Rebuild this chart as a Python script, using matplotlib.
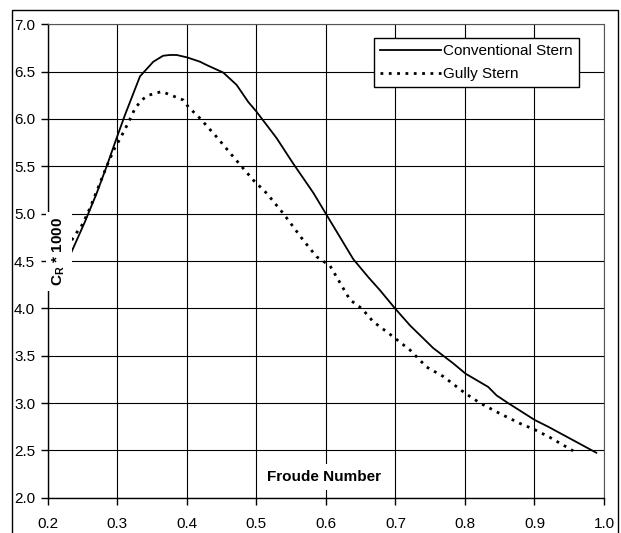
import matplotlib
matplotlib.use('Agg')
import matplotlib.pyplot as plt
from matplotlib.patches import Rectangle

# ---------------------------------------------------------#
# Data                                  #
# ---------------------------------------------------------#
fn_conv = [0.2345, 0.2536, 0.2704, 0.2848, 0.2992, 0.311, 0.3327, 0.3519,
           0.366, 0.3759, 0.3855, 0.4007, 0.419, 0.4286, 0.4525, 0.4717,
           0.4884, 0.5, 0.529, 0.553, 0.582, 0.6, 0.6156, 0.6394,
           0.661, 0.678, 0.6994, 0.721, 0.7545, 0.783, 0.801, 0.8335,
           0.8456, 0.862, 0.9006, 0.9197, 0.989]
cr_conv = [4.60, 4.915, 5.215, 5.50, 5.80, 6.04, 6.45, 6.605,
           6.668, 6.676, 6.676, 6.65, 6.605, 6.57, 6.49, 6.36,
           6.18, 6.08, 5.80, 5.53, 5.22, 5.00, 4.81, 4.52,
           4.33, 4.19, 4.00, 3.82, 3.58, 3.42, 3.31, 3.17,
           3.08, 3.00, 2.82, 2.75, 2.475]

fn_gully = [0.2345, 0.2407, 0.2503, 0.2608, 0.275, 0.2848, 0.2968, 0.304,
            0.3145, 0.3255, 0.335, 0.3447, 0.364, 0.383, 0.395, 0.402,
            0.419, 0.443, 0.467, 0.4956, 0.515, 0.539, 0.5675, 0.5868,
            0.606, 0.6347, 0.6515, 0.668, 0.6898, 0.721, 0.745, 0.769,
            0.801, 0.8217, 0.850, 0.879, 0.9, 0.9216, 0.9556]
cr_gully = [4.72, 4.79, 4.89, 5.06, 5.32, 5.50, 5.70, 5.79,
            5.94, 6.11, 6.20, 6.25, 6.29, 6.235, 6.20, 6.13,
            6.007, 5.81, 5.60, 5.355, 5.215, 5.00, 4.72, 4.545,
            4.45, 4.09, 4.00, 3.86, 3.74, 3.56, 3.38, 3.28,
            3.10, 3.00, 2.89, 2.785, 2.72, 2.64, 2.495]

x_ticks = [0.2, 0.3, 0.4, 0.5, 0.6, 0.7, 0.8, 0.9, 1.0]
y_ticks = [2.0, 2.5, 3.0, 3.5, 4.0, 4.5, 5.0, 5.5, 6.0, 6.5, 7.0]

label_conv  = 'Conventional Stern'
label_gully = 'Gully Stern'
label_x     = 'Froude Number'
label_y     = r'$\mathbf{C_R}$ * 1000'

# ---------------------------------------------------------#
# Plot                                                     #
# ---------------------------------------------------------#
plt.rcParams['font.family'] = ['Liberation Sans', 'DejaVu Sans']
plt.rcParams['mathtext.fontset'] = 'custom'
plt.rcParams['mathtext.rm'] = 'Liberation Sans'
plt.rcParams['mathtext.bf'] = 'Liberation Sans:bold'

fig = plt.figure(figsize=(6.21, 5.33), dpi=100)
ax = fig.add_axes([0.0768, 0.0662, 0.8958, 0.8882])

ax.plot(fn_conv, cr_conv, color='black', lw=1.3, label=label_conv, zorder=4)
ax.plot(fn_gully, cr_gully, color='black', lw=2.0, linestyle=(0, (1, 2)),
        label=label_gully, zorder=4)

ax.set_xlim(0.2, 1.0)
ax.set_ylim(2.0, 7.0)
ax.set_xticks(x_ticks)
ax.set_yticks(y_ticks)
ax.set_xticklabels(['%.1f' % v for v in x_ticks])
ax.set_yticklabels(['%.1f' % v for v in y_ticks])
ax.tick_params(axis='both', direction='out', length=5, width=1,
               labelsize=11, colors='black')
ax.tick_params(axis='x', pad=9)
ax.tick_params(axis='y', pad=4)

ax.grid(True, color='black', lw=0.8)
ax.set_axisbelow(True)
for side in ['left', 'bottom']:
    ax.spines[side].set_linewidth(1.0)
for side in ['top', 'right']:
    ax.spines[side].set_color('#555555')
    ax.spines[side].set_linewidth(0.8)

ax.text(0.597, 2.22, label_x, fontsize=11, fontweight='bold',
        ha='center', va='center', zorder=6,
        bbox=dict(boxstyle='square,pad=0.4', fc='white', ec='none'))
ax.text(0.2163, 4.60, label_y, fontsize=11, fontweight='bold',
        rotation=90, ha='center', va='center', zorder=6,
        bbox=dict(boxstyle='square,pad=0.3', fc='white', ec='none'))

leg = ax.legend(loc='upper right', bbox_to_anchor=(0.955, 0.971),
                borderaxespad=0, fontsize=11, handlelength=4.0,
                handletextpad=0.15, labelspacing=0.6, borderpad=0.4,
                fancybox=False, framealpha=1)
leg.get_frame().set_edgecolor('black')
leg.get_frame().set_linewidth(1.0)

# outer chart frame
fig.add_artist(Rectangle((12/621, -0.05), 606/621, 523/533 + 0.05,
                         transform=fig.transFigure, fill=False,
                         ec='black', lw=1.0))

fig.savefig('out.png', dpi=100)
